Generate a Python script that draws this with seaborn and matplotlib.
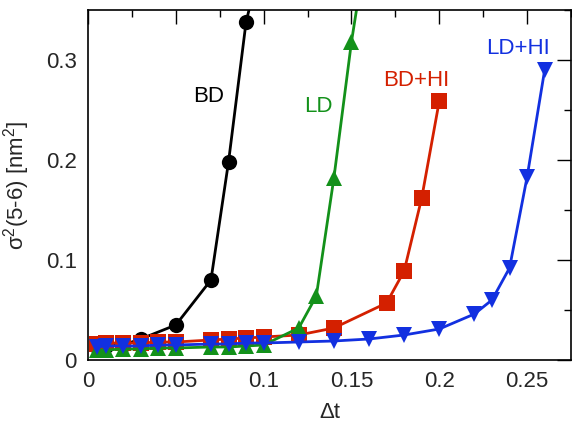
import matplotlib
matplotlib.use("Agg")
import matplotlib.pyplot as plt
from matplotlib.ticker import MultipleLocator
import seaborn as sns
import pandas as pd

sns.set_style("white")
plt.rcParams['font.family'] = ['Liberation Sans', 'DejaVu Sans']
plt.rcParams['mathtext.default'] = 'regular'

# ---- data ----
bd_x = [0.005, 0.01, 0.02, 0.03, 0.05, 0.07, 0.08, 0.09, 0.10]
bd_y = [0.013, 0.014, 0.015, 0.021, 0.035, 0.080, 0.198, 0.338, 0.41]

ld_x = [0.005, 0.01, 0.02, 0.03, 0.04, 0.05, 0.07, 0.08, 0.09, 0.10, 0.12, 0.13, 0.14, 0.15, 0.16]
ld_y = [0.010, 0.010, 0.011, 0.011, 0.012, 0.012, 0.013, 0.013, 0.014, 0.015, 0.032, 0.064, 0.182, 0.318, 0.43]

bdhi_x = [0.005, 0.01, 0.02, 0.03, 0.04, 0.05, 0.07, 0.08, 0.09, 0.10, 0.12, 0.14, 0.17, 0.18, 0.19, 0.20]
bdhi_y = [0.016, 0.017, 0.017, 0.017, 0.018, 0.018, 0.020, 0.021, 0.022, 0.023, 0.025, 0.032, 0.057, 0.089, 0.162, 0.259]

ldhi_x = [0.005, 0.01, 0.02, 0.03, 0.04, 0.05, 0.07, 0.08, 0.09, 0.10, 0.12, 0.14, 0.16, 0.18, 0.20, 0.22, 0.23, 0.24, 0.25, 0.26]
ldhi_y = [0.013, 0.014, 0.014, 0.014, 0.015, 0.015, 0.016, 0.016, 0.017, 0.017, 0.018, 0.019, 0.021, 0.025, 0.031, 0.046, 0.060, 0.092, 0.183, 0.290]

xtick_labels = ["0", "0.05", "0.1", "0.15", "0.2", "0.25"]
ytick_labels = ["0", "0.1", "0.2", "0.3"]
xlabel = "Δt"
ylabel = "σ$^2$(5-6) [nm$^2$]"

series = [
    (bd_x, bd_y, "BD", "black", "o"),
    (bdhi_x, bdhi_y, "BD+HI", "#d42000", "s"),
    (ld_x, ld_y, "LD", "#13911a", "^"),
    (ldhi_x, ldhi_y, "LD+HI", "#1230e0", "v"),
]

fig = plt.figure(figsize=(5.72, 4.22), dpi=100)
ax = fig.add_axes([88/572, 1 - 360/422, (571 - 88)/572, (360 - 10)/422])

for xs, ys, name, col, mk in series:
    df = pd.DataFrame({"x": xs, "y": ys})
    sns.lineplot(data=df, x="x", y="y", ax=ax, color=col, marker=mk,
                 markersize=11, markeredgewidth=0,
                 linewidth=2.0, sort=False, estimator=None)

ax.set_xlim(0, 0.275)
ax.set_ylim(0, 0.35)
ax.set_xticks([0, 0.05, 0.1, 0.15, 0.2, 0.25])
ax.set_xticklabels(xtick_labels)
ax.set_yticks([0, 0.1, 0.2, 0.3])
ax.set_yticklabels(ytick_labels)
ax.xaxis.set_minor_locator(MultipleLocator(0.025))
ax.yaxis.set_minor_locator(MultipleLocator(0.05))
ax.tick_params(which="both", direction="in", top=True, right=True, labelsize=16, width=1, color="black")
ax.tick_params(which="major", length=10, pad=8)
ax.tick_params(which="minor", length=5)
for s in ax.spines.values():
    s.set_color("black")
    s.set_linewidth(1.2)

ax.set_xlabel(xlabel, fontsize=16, labelpad=7)
ax.set_ylabel(ylabel, fontsize=16, labelpad=10)

ax.text(0.0685, 0.263, "BD", color="black", fontsize=16, ha="center", va="center")
ax.text(0.131, 0.253, "LD", color="#13911a", fontsize=16, ha="center", va="center")
ax.text(0.187, 0.279, "BD+HI", color="#d42000", fontsize=16, ha="center", va="center")
ax.text(0.245, 0.312, "LD+HI", color="#1230e0", fontsize=16, ha="center", va="center")

fig.savefig("out.png", dpi=100)
